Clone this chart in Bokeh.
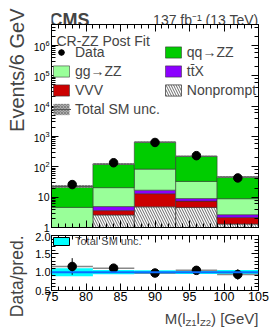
import numpy as np
from math import pi
from bokeh.plotting import figure
from bokeh.models import (ColumnDataSource, Legend, LegendItem, Label, LinearAxis, LogAxis,
                          SingleIntervalTicker, FixedTicker, LogTicker, Range1d, Span,
                          PrintfTickFormatter)
from bokeh.core.enums import CoordinateUnits
from bokeh.layouts import column, row
from bokeh.embed import file_html
from bokeh.resources import INLINE

# ---------------- data ----------------
bin_lo = [75, 81, 87, 93, 99]
bin_hi = [81, 87, 93, 99, 105]
nonprompt = [0.3, 2.6, 4.8, 4.6, 1.3]
vvv = [0.2, 1.0, 8.2, 2.8, 0.85]
ttx = [0.3, 1.3, 4.0, 1.6, 0.5]
ggzz = [3.8, 15.7, 67.0, 24.0, 6.25]
qqzz = [17.9, 102.0, 566.0, 189.0, 37.0]
data = [26, 136, 635, 233, 43]
unc_rel = [0.11, 0.06, 0.05, 0.05, 0.06]
ratio_ticks = [0.5, 1.0, 1.5, 2.0]
log_tick_labels = {1: "1", 10: "10"}

FONT = "Liberation Sans"
NAN = [float("nan")]
CU = "canvas" if "canvas" in CoordinateUnits else "screen"

series = [("Nonprompt", nonprompt, "white"),
          ("VVV", vvv, "#cc0000"),
          ("ttX", ttx, "#8c00ff"),
          ("gg→ZZ", ggzz, "#99ff99"),
          ("qq→ZZ", qqzz, "#00cc00")]

lo = np.array(bin_lo, float)
hi = np.array(bin_hi, float)
ctr = (lo + hi) / 2
d = np.array(data, float)
derr = np.sqrt(d)
stack = np.cumsum([np.array(s[1]) for s in series], axis=0)
total = stack[-1]
u = np.array(unc_rel)

LEFT_W = 30          # width of the strip holding the rotated axis titles
COL_W = 270 - LEFT_W
BL = 48 - LEFT_W     # left border of the panels so that frames start at x=48


def style_axis(ax, labels=True, size="12px"):
    ax.major_tick_in = 7
    ax.major_tick_out = 0
    ax.minor_tick_in = 4
    ax.minor_tick_out = 0
    ax.axis_line_color = "black"
    ax.major_tick_line_color = "black"
    ax.minor_tick_line_color = "black"
    ax.major_label_text_font = FONT
    ax.major_label_text_color = "black"
    ax.major_label_text_font_size = size
    if labels:
        ax.major_label_standoff = 2
    else:
        ax.major_label_text_alpha = 0
        ax.major_label_standoff = 0


def text_label(fig, x, y, txt, size, align="left", bold=False, angle=0.0, baseline="alphabetic"):
    fig.add_layout(Label(x=x, y=y, x_units=CU, y_units=CU, text=txt, angle=angle,
                         text_font=FONT, text_font_size=size,
                         text_font_style="bold" if bold else "normal",
                         text_baseline=baseline, text_align=align))


def blank(width, height):
    f = figure(width=width, height=height, x_range=Range1d(0, 1), y_range=Range1d(0, 1),
               output_backend="svg", toolbar_location=None, min_border=0,
               x_axis_location=None, y_axis_location=None)
    f.grid.visible = False
    f.outline_line_color = None
    return f


# ---------------- header / side / footer strips ----------------
header = blank(COL_W, 24)
text_label(header, 49 - LEFT_W, 19, "CMS", "18px", bold=True)
text_label(header, 258 - LEFT_W, 19, "137 fb\u207b\u00b9 (13 TeV)", "14px", align="right")

side = blank(LEFT_W, 327)
text_label(side, 16, 8, "Events/6 GeV", "20px", align="right", angle=pi / 2, baseline="middle")
text_label(side, 16, 235, "Data/pred.", "17.5px", align="right", angle=pi / 2,
           baseline="middle")

footer = blank(COL_W, 22)
xl_parts = [(") [GeV]", 228, 13, "15px"), ("Z2", 180.5, 17, "9.5px"),
            ("l", 169.4, 13, "15px"), ("Z1", 166.1, 17, "9.5px"), ("M(l", 155.0, 13, "15px")]
for txt, xx, yy, fs in xl_parts:
    text_label(footer, xx, yy, txt, fs, align="right")

# ---------------- main panel ----------------
x_range = Range1d(75, 105)
p = figure(width=COL_W, height=208, x_range=x_range, y_range=Range1d(1, 4.9e6),
           y_axis_type="log", output_backend="svg", toolbar_location=None,
           min_border_left=BL, min_border_right=12, min_border_top=0, min_border_bottom=5)
p.grid.visible = False
p.outline_line_color = "black"

p.xaxis.ticker = SingleIntervalTicker(interval=5, num_minor_ticks=5)
style_axis(p.xaxis[0], labels=False, size="1px")
style_axis(p.yaxis[0], labels=True, size="10.5px")
p.yaxis[0].major_label_overrides = log_tick_labels
top_ax = LinearAxis(ticker=SingleIntervalTicker(interval=5, num_minor_ticks=5))
style_axis(top_ax, labels=False, size="1px")
p.add_layout(top_ax, "above")
right_ax = LogAxis(ticker=LogTicker())
style_axis(right_ax, labels=False, size="1px")
p.add_layout(right_ax, "right")

renderers = {}
bottom = np.full(5, 0.01)
for (name, vals, col), top in zip(series, stack):
    src = ColumnDataSource(dict(left=lo, right=hi, bottom=bottom, top=top))
    if name == "Nonprompt":
        rend = p.quad(left="left", right="right", bottom="bottom", top="top", source=src,
                      fill_color="white", hatch_pattern="\\", hatch_color="#444444",
                      hatch_scale=5, hatch_weight=0.8, line_color="#444444", line_width=0.8)
    else:
        rend = p.quad(left="left", right="right", bottom="bottom", top="top", source=src,
                      fill_color=col, line_color="#333333", line_alpha=0.7, line_width=0.8)
    renderers[name] = rend
    bottom = top

band = p.quad(left=lo, right=hi, bottom=total * (1 - u), top=total * (1 + u),
              fill_color="#999999", fill_alpha=0.8, hatch_pattern="x", hatch_color="#666666",
              hatch_scale=3, hatch_weight=0.6, line_color=None)
tot_line = p.segment(x0=lo, x1=hi, y0=total, y1=total, line_color="#555555", line_width=1)

p.segment(x0=ctr, x1=ctr, y0=d - derr, y1=d + derr, line_color="black", line_width=1)
dots = p.scatter(ctr, d, size=8.5, marker="circle", fill_color="black", line_color="black")
cross = p.scatter(x=NAN, y=NAN, marker="cross", size=14, line_color="black", line_width=1)

items = [
    LegendItem(label="Data", renderers=[cross, dots]),
    LegendItem(label="gg→ZZ", renderers=[renderers["gg→ZZ"]]),
    LegendItem(label="VVV", renderers=[renderers["VVV"]]),
    LegendItem(label="Total SM unc.", renderers=[band, tot_line]),
    LegendItem(label="qq→ZZ", renderers=[renderers["qq→ZZ"]]),
    LegendItem(label="tt\u0304X", renderers=[renderers["ttX"]]),
    LegendItem(label="Nonprompt", renderers=[renderers["Nonprompt"]]),
]
leg = Legend(items=items, ncols=2, location=(0, 110),
             label_text_font=FONT, label_text_font_size="14px",
             glyph_width=20, glyph_height=14, label_height=16, label_standoff=4,
             spacing=3, padding=5, margin=0, background_fill_alpha=0,
             border_line_color=None)
p.add_layout(leg)
p.add_layout(Label(x=5, y=187, x_units="screen", y_units="screen", text="CR-ZZ Post Fit",
                   text_font=FONT, text_font_size="14px", text_baseline="alphabetic"))

# ---------------- ratio panel ----------------
r = figure(width=COL_W, height=73, x_range=x_range, y_range=Range1d(0.5, 2.0),
           output_backend="svg", toolbar_location=None,
           min_border_left=BL, min_border_right=12, min_border_top=3, min_border_bottom=15)
r.grid.visible = False
r.outline_line_color = "black"
r.xaxis.ticker = SingleIntervalTicker(interval=5, num_minor_ticks=5)
style_axis(r.xaxis[0], labels=True, size="12.5px")
r.xaxis[0].major_label_standoff = 1
minor_r = list(np.round(np.arange(0.5, 2.001, 0.1), 2))
r.yaxis.ticker = FixedTicker(ticks=ratio_ticks, minor_ticks=minor_r)
r.yaxis.formatter = PrintfTickFormatter(format="%.1f")
style_axis(r.yaxis[0], labels=True, size="11px")
r.yaxis[0].major_label_standoff = 1
rt = LinearAxis(ticker=SingleIntervalTicker(interval=5, num_minor_ticks=5))
style_axis(rt, labels=False, size="1px")
r.add_layout(rt, "above")
rr = LinearAxis(ticker=FixedTicker(ticks=ratio_ticks, minor_ticks=minor_r))
style_axis(rr, labels=False, size="1px")
r.add_layout(rr, "right")

ratio = d / total
rerr = derr / total
r.quad(left=lo, right=hi, bottom=1 - u, top=1 + u, fill_color="#00ffff", line_color=None)
r.add_layout(Span(location=1.0, dimension="width", line_color="#0a6cff", line_width=2))
r.segment(x0=lo, x1=hi, y0=ratio, y1=ratio, line_color="#888888", line_width=1.5)
r.segment(x0=ctr, x1=ctr, y0=ratio - rerr, y1=ratio + rerr, line_color="black", line_width=1)
r.scatter(ctr, ratio, size=8.5, marker="circle", fill_color="black", line_color="black")
band_leg = r.quad(left=NAN, right=NAN, bottom=NAN, top=NAN, fill_color="#00ffff",
                  line_color="black", line_width=1)
rleg = Legend(items=[LegendItem(label="Total SM unc.", renderers=[band_leg])],
              location="top_left", label_text_font=FONT, label_text_font_size="11px",
              glyph_width=20, glyph_height=10, label_height=12, label_standoff=4,
              padding=7, margin=0, background_fill_alpha=0, border_line_color=None)
r.add_layout(rleg)

layout = row(side, column(header, p, r, footer, spacing=0), spacing=0)
open("out.html", "w").write(file_html(layout, INLINE))
